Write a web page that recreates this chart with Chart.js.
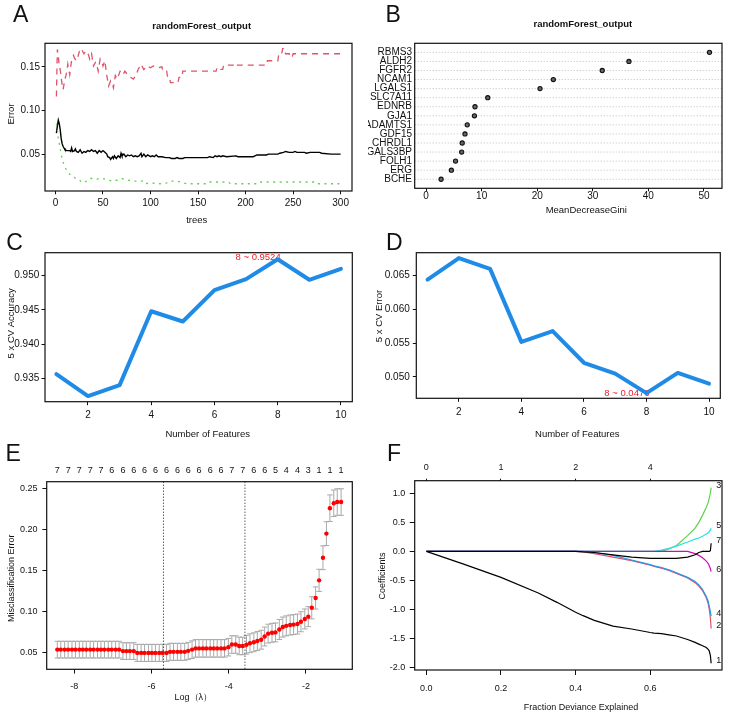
<!DOCTYPE html>
<html>
<head>
<meta charset="utf-8">
<title>Random forest and LASSO feature selection</title>
<script src="https://cdn.jsdelivr.net/npm/chart.js@4.4.1/dist/chart.umd.min.js"></script>
<style>
  html, body { margin: 0; padding: 0; background: #fff; }
  #page { position: relative; width: 736px; height: 723px; overflow: hidden; background: #fff; }
  #page canvas { position: absolute; }
</style>
</head>
<body>
<div id="page">
  <canvas id="panelA" width="368" height="230" style="left:0;top:0"></canvas>
  <canvas id="panelB" width="368" height="230" style="left:368px;top:0"></canvas>
  <canvas id="panelC" width="368" height="220" style="left:0;top:230px"></canvas>
  <canvas id="panelD" width="368" height="220" style="left:368px;top:230px"></canvas>
  <canvas id="panelE" width="368" height="283" style="left:0;top:440px"></canvas>
  <canvas id="panelF" width="368" height="283" style="left:368px;top:440px"></canvas>
</div>
<script>
// ---- Panel A: random forest error rate vs number of trees ----
const treesOOB = [1, 2, 3, 4, 5, 6, 7, 8, 9, 10, 12, 15, 16, 17, 18, 20, 21, 22, 24, 26, 28, 30, 32, 34, 36, 38, 40, 42, 44, 46, 48, 50, 52, 54, 55, 57, 58, 60, 61, 62, 64, 66, 68, 69, 70, 72, 74, 76, 78, 80, 82, 84, 86, 88, 90, 91, 93, 95, 97, 100, 102, 104, 106, 108, 112, 116, 120, 122, 126, 128, 130, 134, 136, 160, 162, 166, 168, 170, 172, 174, 176, 180, 190, 192, 208, 210, 212, 222, 224, 234, 236, 240, 242, 246, 250, 252, 254, 262, 264, 268, 278, 280, 290, 300];
const errOOB = [0.074, 0.082, 0.089, 0.085, 0.078, 0.068, 0.062, 0.059, 0.057, 0.055, 0.054, 0.054, 0.053, 0.057, 0.053, 0.054, 0.056, 0.053, 0.052, 0.055, 0.051, 0.053, 0.052, 0.054, 0.053, 0.055, 0.053, 0.054, 0.051, 0.054, 0.052, 0.054, 0.052, 0.050, 0.047, 0.046, 0.044, 0.047, 0.045, 0.048, 0.045, 0.048, 0.046, 0.051, 0.048, 0.050, 0.047, 0.049, 0.048, 0.049, 0.047, 0.048, 0.047, 0.048, 0.051, 0.047, 0.050, 0.047, 0.049, 0.047, 0.048, 0.047, 0.049, 0.047, 0.047, 0.046, 0.046, 0.045, 0.045, 0.046, 0.045, 0.045, 0.046, 0.046, 0.047, 0.046, 0.048, 0.047, 0.048, 0.047, 0.048, 0.047, 0.048, 0.047, 0.047, 0.048, 0.049, 0.049, 0.050, 0.050, 0.051, 0.052, 0.053, 0.052, 0.052, 0.053, 0.052, 0.052, 0.051, 0.052, 0.052, 0.051, 0.050, 0.050];
const treesClass1 = [1, 2, 3, 4, 5, 6, 7, 8, 9, 10, 11, 12, 13, 14, 15, 16, 17, 18, 19, 20, 22, 24, 25, 27, 29, 30, 32, 33, 35, 36, 38, 40, 42, 43, 45, 47, 49, 50, 52, 54, 56, 58, 60, 61, 63, 65, 68, 71, 73, 76, 79, 82, 85, 87, 90, 93, 96, 100, 103, 108, 112, 113, 117, 118, 120, 121, 129, 130, 133, 134, 169, 170, 173, 174, 176, 177, 188, 189, 190, 222, 223, 234, 235, 238, 239, 241, 242, 246, 247, 249, 250, 300];
const errClass1 = [0.116, 0.170, 0.163, 0.150, 0.147, 0.138, 0.130, 0.124, 0.130, 0.136, 0.140, 0.145, 0.153, 0.147, 0.141, 0.150, 0.157, 0.160, 0.163, 0.160, 0.157, 0.163, 0.167, 0.171, 0.167, 0.165, 0.168, 0.168, 0.163, 0.159, 0.165, 0.151, 0.155, 0.155, 0.145, 0.159, 0.155, 0.151, 0.157, 0.140, 0.128, 0.134, 0.130, 0.126, 0.140, 0.136, 0.145, 0.141, 0.145, 0.141, 0.138, 0.136, 0.141, 0.147, 0.153, 0.147, 0.151, 0.149, 0.151, 0.149, 0.150, 0.145, 0.145, 0.138, 0.138, 0.132, 0.132, 0.138, 0.138, 0.145, 0.145, 0.149, 0.149, 0.147, 0.147, 0.152, 0.152, 0.154, 0.152, 0.152, 0.157, 0.157, 0.165, 0.165, 0.171, 0.171, 0.165, 0.165, 0.161, 0.161, 0.165, 0.165];
const treesClass2 = [1, 2, 3, 4, 5, 6, 7, 8, 9, 10, 12, 14, 16, 18, 20, 22, 25, 27, 29, 31, 33, 35, 37, 40, 43, 46, 50, 53, 56, 60, 63, 66, 70, 73, 77, 82, 88, 92, 94, 100, 110, 118, 122, 128, 132, 138, 160, 162, 182, 184, 212, 214, 275, 277, 300];
const errClass2 = [0.085, 0.078, 0.068, 0.062, 0.056, 0.050, 0.045, 0.041, 0.038, 0.035, 0.031, 0.028, 0.026, 0.024, 0.023, 0.022, 0.021, 0.018, 0.017, 0.018, 0.019, 0.021, 0.022, 0.022, 0.021, 0.022, 0.022, 0.021, 0.020, 0.019, 0.020, 0.020, 0.022, 0.021, 0.020, 0.019, 0.019, 0.019, 0.016, 0.017, 0.016, 0.017, 0.019, 0.019, 0.018, 0.016, 0.016, 0.018, 0.018, 0.016, 0.016, 0.018, 0.018, 0.016, 0.016];
const treeTicks = [0, 50, 100, 150, 200, 250, 300];
const errorTicks = [0.05, 0.10, 0.15];

// ---- Panel B: variable importance ----
const genes = ['RBMS3', 'ALDH2', 'FGFR2', 'NCAM1', 'LGALS1', 'SLC7A11', 'EDNRB', 'GJA1', 'ADAMTS1', 'GDF15', 'CHRDL1', 'LGALS3BP', 'FOLH1', 'ERG', 'BCHE'];
const meanDecreaseGini = [51.0, 36.5, 31.7, 22.9, 20.5, 11.1, 8.8, 8.7, 7.4, 7.0, 6.5, 6.4, 5.3, 4.55, 2.7];
const giniTicks = [0, 10, 20, 30, 40, 50];

// ---- Panels C and D: cross-validation vs number of features ----
const nFeatures = [1, 2, 3, 4, 5, 6, 7, 8, 9, 10];
const cvAccuracy = [0.9356, 0.9324, 0.9340, 0.9448, 0.9433, 0.9479, 0.9495, 0.9524, 0.9494, 0.9510];
const cvError = [0.0644, 0.0676, 0.0660, 0.0552, 0.0568, 0.0521, 0.0505, 0.0476, 0.0506, 0.0490];
const featureTicks = [2, 4, 6, 8, 10];
const accuracyTicks = [0.935, 0.940, 0.945, 0.950];
const cvErrorTicks = [0.050, 0.055, 0.060, 0.065];

// ---- Panel E: LASSO cross-validation ----
const logLambda = [-8.44, -8.35, -8.25, -8.16, -8.06, -7.97, -7.87, -7.78, -7.69, -7.59,
  -7.50, -7.40, -7.31, -7.22, -7.12, -7.03, -6.93, -6.84, -6.74, -6.65,
  -6.56, -6.46, -6.37, -6.27, -6.18, -6.08, -5.99, -5.90, -5.80, -5.71,
  -5.61, -5.52, -5.43, -5.33, -5.24, -5.14, -5.05, -4.95, -4.86, -4.77,
  -4.67, -4.58, -4.48, -4.39, -4.30, -4.20, -4.11, -4.01, -3.92, -3.82,
  -3.73, -3.64, -3.54, -3.45, -3.35, -3.26, -3.16, -3.07, -2.98, -2.88,
  -2.79, -2.69, -2.60, -2.51, -2.41, -2.32, -2.22, -2.13, -2.03, -1.94,
  -1.85, -1.75, -1.66, -1.56, -1.47, -1.38, -1.28, -1.19, -1.09];
const cvMisclass = [0.0540, 0.0540, 0.0540, 0.0540, 0.0540, 0.0540, 0.0540, 0.0540, 0.0540, 0.0540,
  0.0540, 0.0540, 0.0540, 0.0540, 0.0540, 0.0540, 0.0540, 0.0540, 0.0522, 0.0522,
  0.0522, 0.0522, 0.0500, 0.0500, 0.0500, 0.0500, 0.0500, 0.0500, 0.0500, 0.0500,
  0.0500, 0.0513, 0.0513, 0.0513, 0.0513, 0.0513, 0.0525, 0.0540, 0.0555, 0.0555,
  0.0555, 0.0555, 0.0555, 0.0555, 0.0555, 0.0555, 0.0555, 0.0570, 0.0602, 0.0602,
  0.0585, 0.0585, 0.0600, 0.0618, 0.0630, 0.0645, 0.0661, 0.0700, 0.0735, 0.0745,
  0.0750, 0.0786, 0.0815, 0.0830, 0.0840, 0.0845, 0.0852, 0.0880, 0.0914, 0.0942,
  0.1050, 0.1170, 0.1385, 0.1660, 0.1955, 0.2265, 0.2325, 0.2340, 0.2340];
const cvSd = [0.0102, 0.0102, 0.0102, 0.0102, 0.0102, 0.0102, 0.0102, 0.0102, 0.0102, 0.0102,
  0.0102, 0.0102, 0.0102, 0.0102, 0.0102, 0.0102, 0.0102, 0.0102, 0.0102, 0.0102,
  0.0102, 0.0102, 0.0104, 0.0104, 0.0104, 0.0104, 0.0104, 0.0104, 0.0104, 0.0104,
  0.0104, 0.0104, 0.0104, 0.0104, 0.0104, 0.0104, 0.0104, 0.0107, 0.0107, 0.0107,
  0.0107, 0.0107, 0.0107, 0.0107, 0.0107, 0.0107, 0.0107, 0.0107, 0.0107, 0.0107,
  0.0107, 0.0107, 0.0115, 0.0115, 0.0115, 0.0115, 0.0115, 0.0115, 0.0115, 0.0115,
  0.0115, 0.0122, 0.0122, 0.0122, 0.0122, 0.0122, 0.0122, 0.0122, 0.0122, 0.0122,
  0.0135, 0.0135, 0.0135, 0.0145, 0.0145, 0.0162, 0.0162, 0.0162, 0.0162];
// number of non-zero coefficients, printed at every third lambda on the top axis
const nonzeroLabels = [7, 7, 7, 7, 7, 6, 6, 6, 6, 6, 6, 6, 6, 6, 6, 6, 7, 7, 6, 6, 5, 4, 4, 3, 1, 1, 1];
const logLambdaMin = -5.69;
const logLambda1se = -3.58;
const logLambdaTicks = [-8, -6, -4, -2];
const misclassTicks = [0.05, 0.10, 0.15, 0.20, 0.25];

// ---- Panel F: LASSO coefficient paths ----
const devExplained = [0, 0.1, 0.2, 0.3, 0.35, 0.4, 0.42, 0.45, 0.5, 0.55, 0.6, 0.61, 0.63, 0.65, 0.67, 0.7, 0.72, 0.73, 0.74, 0.75, 0.755, 0.758, 0.761, 0.763];
const coef1 = [0, -0.22, -0.45, -0.72, -0.88, -1.05, -1.11, -1.19, -1.29, -1.34, -1.40, -1.41, -1.42, -1.44, -1.46, -1.52, -1.57, -1.60, -1.63, -1.66, -1.69, -1.72, -1.80, -1.93];
const coef2 = [0, 0, 0, 0, 0, 0, -0.01, -0.04, -0.10, -0.16, -0.24, -0.26, -0.29, -0.33, -0.38, -0.46, -0.54, -0.60, -0.68, -0.80, -0.90, -1.00, -1.15, -1.33];
const coef3 = [0, 0, 0, 0, 0, 0, 0, 0, 0, 0, 0, 0, 0, 0.04, 0.10, 0.27, 0.40, 0.50, 0.62, 0.76, 0.84, 0.92, 1.01, 1.10];
const coef4 = [0, 0, 0, 0, 0, 0, 0, -0.02, -0.07, -0.15, -0.23, -0.25, -0.28, -0.32, -0.37, -0.45, -0.52, -0.58, -0.66, -0.78, -0.86, -0.95, -1.04, -1.12];
const coef5 = [0, 0, 0, 0, 0, 0, 0, 0, 0, 0, 0, 0, 0.02, 0.05, 0.09, 0.16, 0.21, 0.23, 0.26, 0.30, 0.32, 0.34, 0.37, 0.40];
const coef6 = [0, 0, 0, 0, 0, 0, 0, 0, 0, 0, 0, 0, 0, 0, 0, 0, -0.04, -0.07, -0.11, -0.17, -0.21, -0.25, -0.30, -0.35];
const coef7 = [0, 0, 0, 0, 0, 0, -0.01, -0.02, -0.06, -0.10, -0.12, -0.12, -0.12, -0.12, -0.12, -0.10, -0.06, -0.02, 0, 0, 0, 0, 0.01, 0.14];
const coefColors = ['#000000', '#DF536B', '#61D04F', '#2297E6', '#28E2E5', '#CD0BBC', '#000000'];
const devTicks = [0, 0.2, 0.4, 0.6];
const coefTicks = [-2.0, -1.5, -1.0, -0.5, 0.0, 0.5, 1.0];
const devTopTicks = [0, 0.2, 0.4, 0.6];
const devTopLabels = ['0', '1', '2', '4'];

// ------------------------------------------------------------------
const FAMILY = "'Liberation Sans', Arial, Helvetica, sans-serif";
Chart.defaults.font.family = FAMILY;
Chart.defaults.color = '#111';

const pts = (xs, ys) => xs.map((x, i) => ({ x: x, y: ys[i] }));
const font = (size, bold) => (bold ? 'bold ' : '') + size + 'px ' + FAMILY;

// canvas rect and plot frame rect are given in page pixels
function frameLayout(cv, box, hasTop) {
  const [cx, cy, cw, ch] = cv, [l, t, r, b] = box;
  return {
    padding: { left: 0, right: cx + cw - r, top: hasTop ? 0 : t - cy, bottom: 0 },
    leftW: l - cx, bottomH: cy + ch - b, topH: t - cy
  };
}

function axis(o) {
  const horiz = o.pos === 'top' || o.pos === 'bottom';
  const tl = o.tl || 0;
  return {
    type: 'linear', position: o.pos, min: o.min, max: o.max, bounds: 'data',
    afterBuildTicks: s => { s.ticks = o.ticks.map(v => ({ value: v })); },
    afterFit: s => { if (horiz) s.height = o.size; else s.width = o.size; },
    ticks: { callback: (v, i) => o.fmt(v, i), font: { size: o.font || 10 }, color: '#111',
             padding: o.pad, autoSkip: false, maxRotation: 0, minRotation: 0 },
    grid: { display: tl > 0, drawOnChartArea: false, drawTicks: tl > 0, tickLength: tl,
            tickColor: '#111', tickWidth: 1 },
    border: { display: false }
  };
}

function baseOptions(L, scales) {
  return {
    responsive: false, animation: false, events: [],
    layout: { padding: L.padding },
    plugins: { legend: { display: false }, tooltip: { enabled: false }, title: { display: false } },
    scales: scales
  };
}

// box around the plotting region, like R's box()
const framePlugin = {
  id: 'frame',
  afterDatasetsDraw(chart) {
    const { ctx, chartArea: a } = chart;
    ctx.save();
    ctx.strokeStyle = '#111';
    ctx.lineWidth = 1.2;
    ctx.strokeRect(a.left, a.top, a.right - a.left, a.bottom - a.top);
    ctx.restore();
  }
};

// titles, axis titles and panel letters
function pageText(items, ox, oy) {
  return {
    id: 'pageText',
    afterDraw(chart) {
      const ctx = chart.ctx;
      items.forEach(t => {
        ctx.save();
        ctx.font = t.font;
        ctx.fillStyle = t.color || '#111';
        ctx.textAlign = t.align || 'center';
        ctx.textBaseline = 'middle';
        ctx.translate(t.x - ox, t.y - oy);
        if (t.rot) ctx.rotate(-Math.PI / 2);
        ctx.fillText(t.text, 0, 0);
        ctx.restore();
      });
    }
  };
}

// ---- A ----
const cvA = [0, 0, 368, 230], LA = frameLayout(cvA, [45, 43.3, 352, 191], false);
new Chart(document.getElementById('panelA'), {
  type: 'scatter',
  data: { datasets: [
    { data: pts(treesOOB, errOOB), showLine: true, borderColor: '#000', borderWidth: 1.4, pointRadius: 0, order: 3 },
    { data: pts(treesClass1, errClass1), showLine: true, borderColor: '#DF536B', borderWidth: 1.3, borderDash: [6, 5], pointRadius: 0, order: 2 },
    { data: pts(treesClass2, errClass2), showLine: true, borderColor: '#61D04F', borderWidth: 1.3, borderDash: [2, 4.5], pointRadius: 0, order: 1 }
  ] },
  options: baseOptions(LA, {
    x: axis({ pos: 'bottom', min: -11, max: 312, ticks: treeTicks, fmt: v => String(v), size: LA.bottomH, tl: 3.3, pad: 3 }),
    y: axis({ pos: 'left', min: 0.0077, max: 0.177, ticks: errorTicks, fmt: v => v.toFixed(2), size: LA.leftW, tl: 3.3, pad: 1.7 })
  }),
  plugins: [framePlugin, pageText([
    { text: 'A', x: 13, y: 15.7, font: font(23), align: 'left' },
    { text: 'randomForest_output', x: 201.7, y: 26, font: font(9.5, true) },
    { text: 'Error', x: 11.7, y: 114, font: font(9.5), rot: true },
    { text: 'trees', x: 196.7, y: 220, font: font(9.5) }
  ], cvA[0], cvA[1])]
});

// ---- B ----
const cvB = [368, 0, 368, 230], LB = frameLayout(cvB, [414.7, 43.3, 722, 188.3], false);
const rowLines = {
  id: 'rowLines',
  beforeDatasetsDraw(chart) {
    const { ctx, chartArea: a, scales: { y } } = chart;
    ctx.save();
    ctx.strokeStyle = '#BEBEBE';
    ctx.lineWidth = 1;
    ctx.setLineDash([1, 2]);
    genes.forEach((g, i) => {
      const py = y.getPixelForValue(genes.length - i);
      ctx.beginPath(); ctx.moveTo(a.left, py); ctx.lineTo(a.right, py); ctx.stroke();
    });
    ctx.restore();
  }
};
new Chart(document.getElementById('panelB'), {
  type: 'scatter',
  data: { datasets: [{
    data: genes.map((g, i) => ({ x: meanDecreaseGini[i], y: genes.length - i })),
    pointRadius: 2.1, pointBackgroundColor: '#666', pointBorderColor: '#111', pointBorderWidth: 1.1
  }] },
  options: baseOptions(LB, {
    x: axis({ pos: 'bottom', min: -2.05, max: 53.25, ticks: giniTicks, fmt: v => String(v), size: LB.bottomH, tl: 3, pad: -1.5 }),
    y: axis({ pos: 'left', min: 0, max: genes.length + 1, ticks: genes.map((g, i) => i + 1),
              fmt: v => genes[genes.length - v], size: LB.leftW, tl: 0, pad: 2.7 })
  }),
  plugins: [rowLines, framePlugin, pageText([
    { text: 'B', x: 385.5, y: 15.8, font: font(23), align: 'left' },
    { text: 'randomForest_output', x: 582.8, y: 24, font: font(9.5, true) },
    { text: 'MeanDecreaseGini', x: 586.3, y: 210.7, font: font(9.5) }
  ], cvB[0], cvB[1])]
});

// red "n ~ value" note at the best number of features
function bestNote(values, pickMax, dy) {
  return {
    id: 'bestNote',
    beforeDatasetsDraw(chart) {
      const { ctx, scales: { x, y } } = chart;
      let best = 0;
      values.forEach((v, i) => { if (pickMax ? v > values[best] : v < values[best]) best = i; });
      ctx.save();
      ctx.font = font(9.5);
      ctx.fillStyle = '#F0202A';
      ctx.textAlign = 'right';
      ctx.textBaseline = 'middle';
      ctx.fillText(nFeatures[best] + ' ~ ' + values[best], x.getPixelForValue(nFeatures[best]) + 3, y.getPixelForValue(values[best]) + dy);
      ctx.restore();
    }
  };
}

function cvLine(values) {
  return { data: pts(nFeatures, values), showLine: true, borderColor: '#1F8BE6', borderWidth: 4,
           borderCapStyle: 'round', borderJoinStyle: 'round', pointRadius: 0 };
}

// ---- C ----
const cvC = [0, 230, 368, 220], LC = frameLayout(cvC, [45, 252.7, 352.3, 401.7], false);
new Chart(document.getElementById('panelC'), {
  type: 'scatter',
  data: { datasets: [cvLine(cvAccuracy)] },
  options: baseOptions(LC, {
    x: axis({ pos: 'bottom', min: 0.64, max: 10.36, ticks: featureTicks, fmt: v => String(v), size: LC.bottomH, tl: 3.5, pad: 4.1 }),
    y: axis({ pos: 'left', min: 0.93158, max: 0.95336, ticks: accuracyTicks, fmt: v => v.toFixed(3), size: LC.leftW, tl: 3.5, pad: 2.2 })
  }),
  plugins: [bestNote(cvAccuracy, true, -2), framePlugin, pageText([
    { text: 'C', x: 6.3, y: 244, font: font(23), align: 'left' },
    { text: '5 x CV Accuracy', x: 11.7, y: 323.3, font: font(9.5), rot: true },
    { text: 'Number of Features', x: 207.7, y: 434, font: font(9.5) }
  ], cvC[0], cvC[1])]
});

// ---- D ----
const cvD = [368, 230, 368, 220], LD = frameLayout(cvD, [416.3, 252.7, 720.3, 398.3], false);
new Chart(document.getElementById('panelD'), {
  type: 'scatter',
  data: { datasets: [cvLine(cvError)] },
  options: baseOptions(LD, {
    x: axis({ pos: 'bottom', min: 0.64, max: 10.36, ticks: featureTicks, fmt: v => String(v), size: LD.bottomH, tl: 3.5, pad: 4.9 }),
    y: axis({ pos: 'left', min: 0.04684, max: 0.0684, ticks: cvErrorTicks, fmt: v => v.toFixed(3), size: LD.leftW, tl: 3.5, pad: 3 })
  }),
  plugins: [bestNote(cvError, false, 0), framePlugin, pageText([
    { text: 'D', x: 386, y: 243.5, font: font(23), align: 'left' },
    { text: '5 x CV Error', x: 379.7, y: 316, font: font(9.5), rot: true },
    { text: 'Number of Features', x: 577.3, y: 434, font: font(9.5) }
  ], cvD[0], cvD[1])]
});

// ---- E ----
const cvE = [0, 440, 368, 283], LE = frameLayout(cvE, [46.7, 481.7, 352.3, 669.3], true);
const errorBars = {
  id: 'errorBars',
  beforeDatasetsDraw(chart) {
    const { ctx, chartArea: a, scales: { x, y } } = chart;
    ctx.save();
    ctx.strokeStyle = '#A9A9A9';
    ctx.lineWidth = 1;
    logLambda.forEach((l, i) => {
      const px = x.getPixelForValue(l);
      const hi = y.getPixelForValue(cvMisclass[i] + cvSd[i]);
      const lo = y.getPixelForValue(cvMisclass[i] - cvSd[i]);
      ctx.beginPath();
      ctx.moveTo(px, hi); ctx.lineTo(px, lo);
      ctx.moveTo(px - 2.8, hi); ctx.lineTo(px + 2.8, hi);
      ctx.moveTo(px - 2.8, lo); ctx.lineTo(px + 2.8, lo);
      ctx.stroke();
    });
    ctx.strokeStyle = '#111';
    ctx.setLineDash([1, 2]);
    [logLambdaMin, logLambda1se].forEach(l => {
      const px = x.getPixelForValue(l);
      ctx.beginPath(); ctx.moveTo(px, a.top); ctx.lineTo(px, a.bottom); ctx.stroke();
    });
    ctx.restore();
  }
};
new Chart(document.getElementById('panelE'), {
  type: 'scatter',
  data: { datasets: [{ data: pts(logLambda, cvMisclass), pointRadius: 2.2, pointBackgroundColor: '#FF0000', pointBorderWidth: 0 }] },
  options: baseOptions(LE, {
    x: axis({ pos: 'bottom', min: -8.715, max: -0.80, ticks: logLambdaTicks, fmt: v => String(v), size: LE.bottomH, tl: 4.3, pad: 8, font: 9 }),
    xt: axis({ pos: 'top', min: -8.715, max: -0.80, ticks: logLambda.filter((l, i) => i % 3 === 0),
               fmt: (v, i) => String(nonzeroLabels[i]), size: LE.topH, tl: 0, pad: 5.6, font: 9 }),
    y: axis({ pos: 'left', min: 0.0300, max: 0.2588, ticks: misclassTicks, fmt: v => v.toFixed(2), size: LE.leftW, tl: 4.3, pad: 5, font: 9 })
  }),
  plugins: [errorBars, framePlugin, pageText([
    { text: 'E', x: 5.5, y: 454.5, font: font(23), align: 'left' },
    { text: 'Misclassification Error', x: 11.7, y: 578.3, font: font(9), rot: true },
    { text: 'Log（λ）', x: 193.3, y: 698, font: font(9) }
  ], cvE[0], cvE[1])]
});

// ---- F ----
const cvF = [368, 440, 368, 283], LF = frameLayout(cvF, [414.7, 480.7, 722, 670], true);
const coefPaths = [coef1, coef2, coef3, coef4, coef5, coef6, coef7];
const pathLabels = {
  id: 'pathLabels',
  afterDatasetsDraw(chart) {
    const { ctx, scales: { x, y } } = chart;
    const last = devExplained.length - 1;
    ctx.save();
    ctx.font = font(9);
    ctx.fillStyle = '#111';
    ctx.textAlign = 'left';
    ctx.textBaseline = 'middle';
    coefPaths.forEach((c, k) => {
      ctx.fillText(String(k + 1), x.getPixelForValue(devExplained[last]) + 5, y.getPixelForValue(c[last]) - 2.5);
    });
    ctx.restore();
  }
};
new Chart(document.getElementById('panelF'), {
  type: 'scatter',
  data: { datasets: coefPaths.map((c, k) => ({
    data: pts(devExplained, c), showLine: true, borderColor: coefColors[k], borderWidth: 1.2,
    pointRadius: 0, order: coefPaths.length - k
  })) },
  options: baseOptions(LF, {
    x: axis({ pos: 'bottom', min: -0.0311, max: 0.7921, ticks: devTicks, fmt: v => v.toFixed(1), size: LF.bottomH, tl: 5, pad: 8.6, font: 9 }),
    xt: axis({ pos: 'top', min: -0.0311, max: 0.7921, ticks: devTopTicks, fmt: (v, i) => devTopLabels[i], size: LF.topH, tl: 2, pad: 5.8, font: 9 }),
    y: axis({ pos: 'left', min: -2.047, max: 1.218, ticks: coefTicks, fmt: v => v.toFixed(1), size: LF.leftW, tl: 5, pad: 4.4, font: 9 })
  }),
  plugins: [framePlugin, pathLabels, pageText([
    { text: 'F', x: 387, y: 454.5, font: font(23), align: 'left' },
    { text: 'Coefficients', x: 383, y: 576, font: font(9), rot: true },
    { text: 'Fraction Deviance Explained', x: 581, y: 707.7, font: font(9) }
  ], cvF[0], cvF[1])]
});
</script>
</body>
</html>
